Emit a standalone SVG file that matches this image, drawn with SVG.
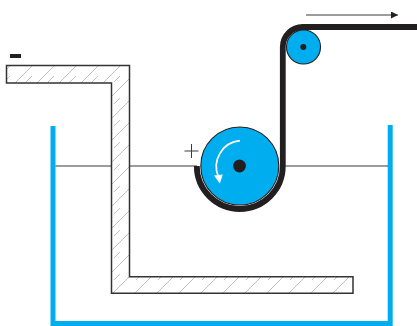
<svg xmlns="http://www.w3.org/2000/svg" width="417" height="326" viewBox="0 0 417 326">
<style>
.tank{fill:none;stroke:#00aeef;stroke-width:5}
.level{fill:none;stroke:#3c3a3a;stroke-width:1.1}
.foil{fill:none;stroke:#231f20;stroke-width:5.800}
.roll{fill:#00aeef;stroke:#231f20;stroke-width:1.1}
.dot{fill:#231f20}
.thin{fill:none;stroke:#3c3a3a;stroke-width:1}
</style>
<defs>
<pattern id="hatch" patternUnits="userSpaceOnUse" width="22" height="22" x="4" y="6">
<rect width="22" height="22" fill="#fff"/>
<path d="M-2 24L24 -2M-6 16L6 4" fill="none" stroke="#b0b0b0" stroke-width="0.8"/>
</pattern>
<marker id="ah" markerUnits="userSpaceOnUse" markerWidth="8" markerHeight="7" refX="7" refY="3.5" orient="auto">
<path d="M0 0L7 3.5L0 7Z" fill="#231f20"/>
</marker>
</defs>
<g id="tank"><path class="tank" d="M53 126V323.500H390.200V125"/></g>
<g id="connectors">
<path class="level" d="M55.500 166H197M285 166H388"/>
<path class="thin" d="M306 15H398" marker-end="url(#ah)"/>
</g>
<g id="electrode"><path d="M6.500 65.500H129.500V276.700H353V293.300H111.500V83H6.500Z" fill="url(#hatch)" stroke="#333" stroke-width="1.500"/></g>
<g id="minus"><rect x="10" y="54" width="11" height="4" fill="#231f20"/></g>
<g id="plus"><path class="thin" d="M184.500 151H198.500M191.500 144V158"/></g>
<g id="drum">
<circle class="roll" cx="239.800" cy="166" r="39"/>
<circle class="dot" cx="239.500" cy="166" r="6.400"/>
<path d="M240 140.700A26 26 0 0 0 218.500 177" fill="none" stroke="#fff" stroke-width="1.700"/>
<path d="M214 175.500L222.800 174.500L219.800 183.500Z" fill="#fff"/>
</g>
<g id="roller">
<circle class="roll" cx="303.500" cy="47" r="17"/>
<circle class="dot" cx="303.300" cy="47" r="3"/>
</g>
<g id="foil"><path class="foil" d="M196.800 166A43 43 0 0 0 282.800 166V47A20 20 0 0 1 302.800 27H417"/></g>
</svg>
